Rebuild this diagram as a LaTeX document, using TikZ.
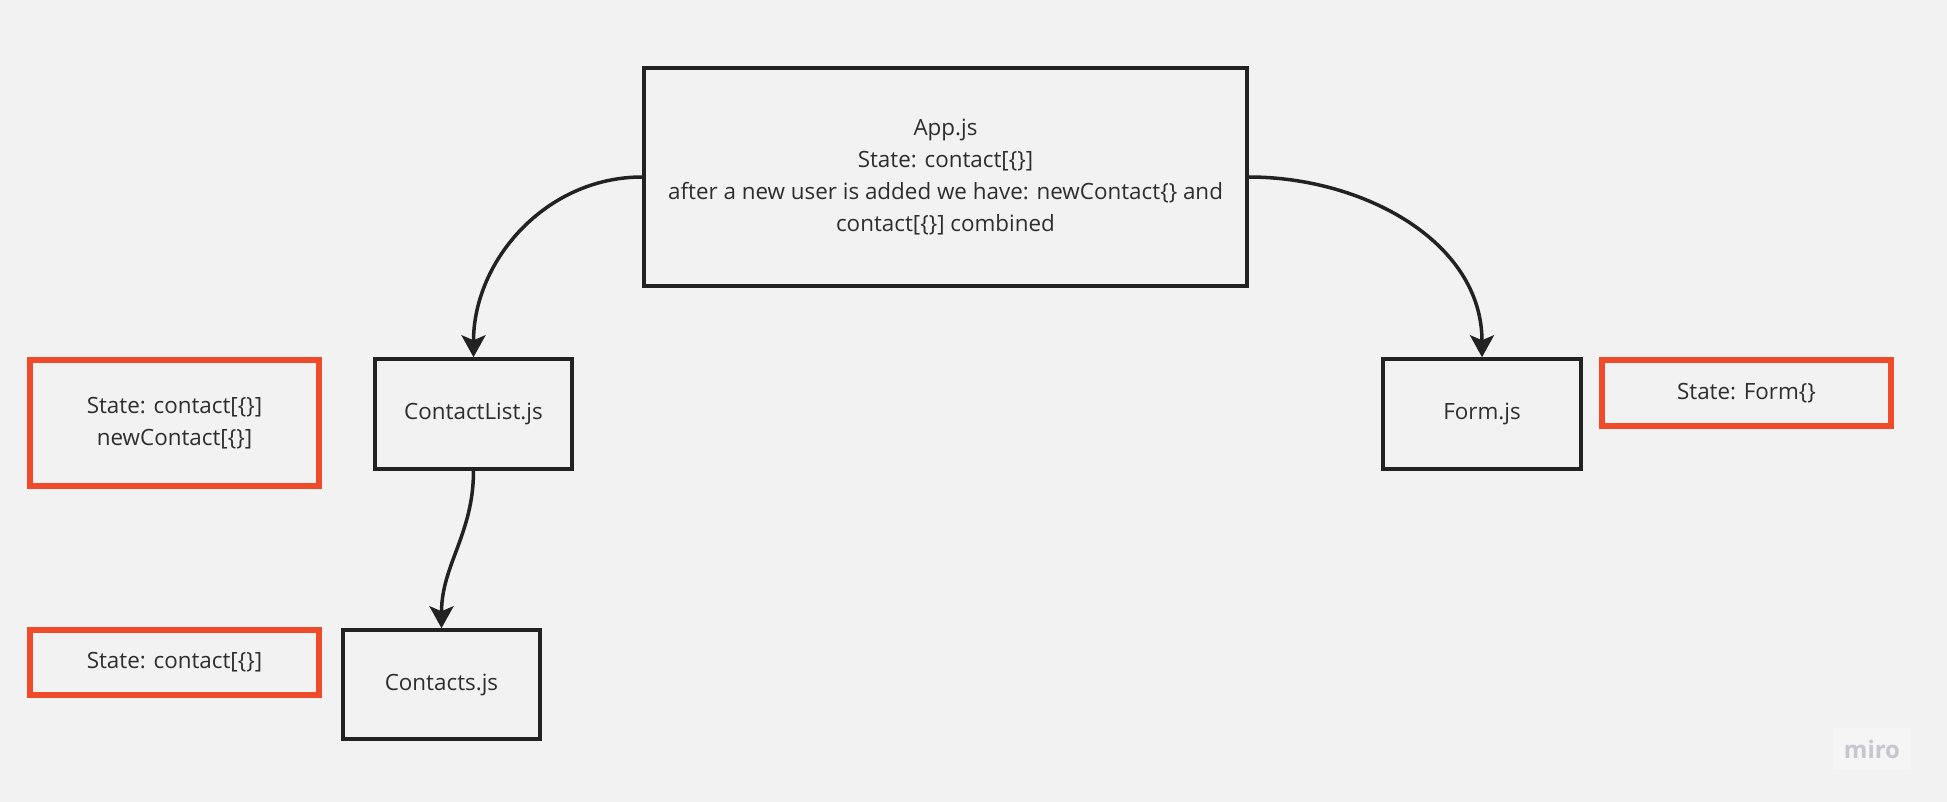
\documentclass[tikz,border=0pt]{standalone}
\usepackage{fontspec}
\setmainfont{Open Sans}
\usetikzlibrary{arrows.meta}
\definecolor{bg}{HTML}{F2F2F2}
\definecolor{ink}{HTML}{222222}
\definecolor{txt}{HTML}{2E2E2E}
\definecolor{redb}{HTML}{EF4A2A}
\definecolor{wm}{HTML}{C6C6D0}
\definecolor{wmbg}{HTML}{F5F5F5}
\begin{document}
\begin{tikzpicture}[x=1pt,y=-1pt,
  every node/.style={font=\fontsize{22.4}{32}\selectfont, text=txt, align=center, inner sep=0pt},
  blackbox/.style={draw=ink, line width=3.5pt, rectangle},
  redbox/.style={draw=redb, line width=5.5pt, rectangle},
  conn/.style={draw=ink, line width=3.5pt, -{Stealth[length=22pt,width=24pt,inset=5pt]}}]
\fill[bg] (0,0) rectangle (1947,802);
\useasboundingbox (0,0) rectangle (1947,802);

\node[blackbox, minimum width=603pt, minimum height=218pt] (app) at (945.5,177)
  {App.js\\State: contact[\{\}]\\after a new user is added we have: newContact\{\} and\\contact[\{\}] combined};
\node[blackbox, minimum width=197pt, minimum height=110pt] (cl) at (473.5,414) {ContactList.js};
\node[blackbox, minimum width=197pt, minimum height=109pt] (ct) at (441.5,684.5) {Contacts.js};
\node[blackbox, minimum width=198pt, minimum height=110pt] (form) at (1482,414) {Form.js};

\node[redbox, minimum width=289pt, minimum height=126pt] (r1) at (174.5,423) {State: contact[\{\}]\\newContact[\{\}]};
\node[redbox, minimum width=289pt, minimum height=65pt] (r2) at (174.5,662.5) {State: contact[\{\}]};
\node[redbox, minimum width=289pt, minimum height=66pt] (r3) at (1746.5,393) {State: Form\{\}};

\draw[conn] (app.west) to[out=180,in=90] (cl.north);
\draw[conn] (app.east) to[out=0,in=90] (form.north);
\draw[conn] (cl.south) to[out=-90,in=90] (ct.north);

\node[fill=wmbg, minimum width=78pt, minimum height=42pt, font=\fontsize{24}{24}\selectfont\bfseries, text=wm] (miro) at (1872,749) {miro};
\end{tikzpicture}
\end{document}
